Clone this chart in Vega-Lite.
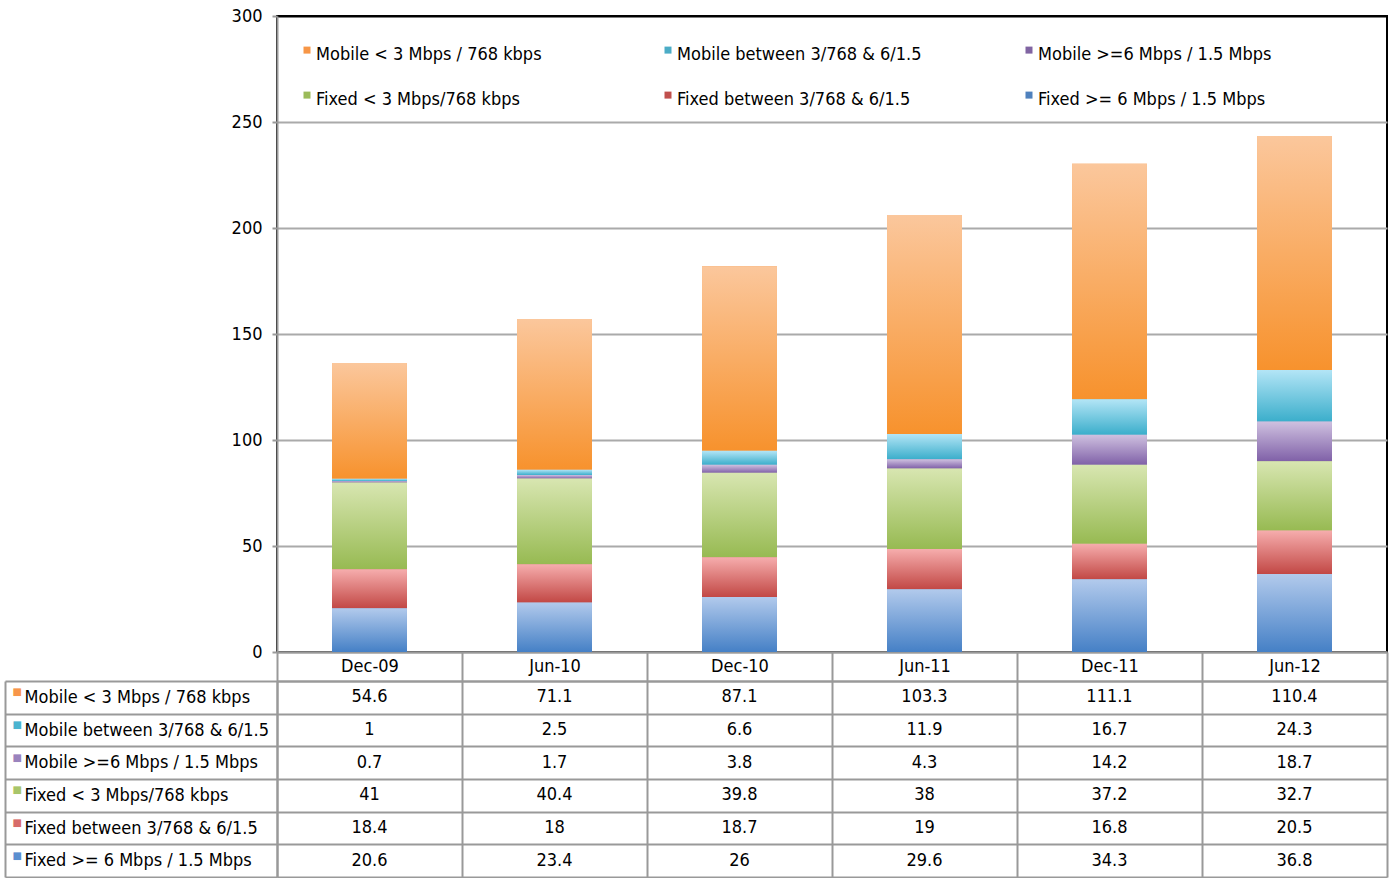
{
  "$schema": "https://vega.github.io/schema/vega-lite/v6.json",
  "padding": {"left": 4, "top": 6, "right": 1, "bottom": 1},
  "background": "#ffffff",
  "spacing": 29,
  "bounds": "flush",
  "config": {
    "font": "DejaVu Sans Condensed, sans-serif",
    "view": {"stroke": null},
    "axis": {"labelFontSize": 18, "labelColor": "#000000", "title": null, "minExtent": 0}
  },
  "datasets": {
    "d": [
      {"date": "Dec-09", "series": "Fixed >= 6 Mbps / 1.5 Mbps", "value": 20.6},
      {"date": "Dec-09", "series": "Fixed between 3/768 & 6/1.5", "value": 18.4},
      {"date": "Dec-09", "series": "Fixed < 3 Mbps/768 kbps", "value": 41},
      {"date": "Dec-09", "series": "Mobile >=6 Mbps / 1.5 Mbps", "value": 0.7},
      {"date": "Dec-09", "series": "Mobile between 3/768 & 6/1.5", "value": 1},
      {"date": "Dec-09", "series": "Mobile < 3 Mbps / 768 kbps", "value": 54.6},
      {"date": "Jun-10", "series": "Fixed >= 6 Mbps / 1.5 Mbps", "value": 23.4},
      {"date": "Jun-10", "series": "Fixed between 3/768 & 6/1.5", "value": 18},
      {"date": "Jun-10", "series": "Fixed < 3 Mbps/768 kbps", "value": 40.4},
      {"date": "Jun-10", "series": "Mobile >=6 Mbps / 1.5 Mbps", "value": 1.7},
      {"date": "Jun-10", "series": "Mobile between 3/768 & 6/1.5", "value": 2.5},
      {"date": "Jun-10", "series": "Mobile < 3 Mbps / 768 kbps", "value": 71.1},
      {"date": "Dec-10", "series": "Fixed >= 6 Mbps / 1.5 Mbps", "value": 26},
      {"date": "Dec-10", "series": "Fixed between 3/768 & 6/1.5", "value": 18.7},
      {"date": "Dec-10", "series": "Fixed < 3 Mbps/768 kbps", "value": 39.8},
      {"date": "Dec-10", "series": "Mobile >=6 Mbps / 1.5 Mbps", "value": 3.8},
      {"date": "Dec-10", "series": "Mobile between 3/768 & 6/1.5", "value": 6.6},
      {"date": "Dec-10", "series": "Mobile < 3 Mbps / 768 kbps", "value": 87.1},
      {"date": "Jun-11", "series": "Fixed >= 6 Mbps / 1.5 Mbps", "value": 29.6},
      {"date": "Jun-11", "series": "Fixed between 3/768 & 6/1.5", "value": 19},
      {"date": "Jun-11", "series": "Fixed < 3 Mbps/768 kbps", "value": 38},
      {"date": "Jun-11", "series": "Mobile >=6 Mbps / 1.5 Mbps", "value": 4.3},
      {"date": "Jun-11", "series": "Mobile between 3/768 & 6/1.5", "value": 11.9},
      {"date": "Jun-11", "series": "Mobile < 3 Mbps / 768 kbps", "value": 103.3},
      {"date": "Dec-11", "series": "Fixed >= 6 Mbps / 1.5 Mbps", "value": 34.3},
      {"date": "Dec-11", "series": "Fixed between 3/768 & 6/1.5", "value": 16.8},
      {"date": "Dec-11", "series": "Fixed < 3 Mbps/768 kbps", "value": 37.2},
      {"date": "Dec-11", "series": "Mobile >=6 Mbps / 1.5 Mbps", "value": 14.2},
      {"date": "Dec-11", "series": "Mobile between 3/768 & 6/1.5", "value": 16.7},
      {"date": "Dec-11", "series": "Mobile < 3 Mbps / 768 kbps", "value": 111.1},
      {"date": "Jun-12", "series": "Fixed >= 6 Mbps / 1.5 Mbps", "value": 36.8},
      {"date": "Jun-12", "series": "Fixed between 3/768 & 6/1.5", "value": 20.5},
      {"date": "Jun-12", "series": "Fixed < 3 Mbps/768 kbps", "value": 32.7},
      {"date": "Jun-12", "series": "Mobile >=6 Mbps / 1.5 Mbps", "value": 18.7},
      {"date": "Jun-12", "series": "Mobile between 3/768 & 6/1.5", "value": 24.3},
      {"date": "Jun-12", "series": "Mobile < 3 Mbps / 768 kbps", "value": 110.4}
    ]
  },
  "vconcat": [
    {
      "width": 1110,
      "height": 636,
      "view": {"stroke": "#000000", "strokeWidth": 2},
      "data": {"name": "d"},
      "transform": [{"stack": "value", "groupby": ["date"], "as": ["y0", "y1"]}],
      "encoding": {
        "x": {
          "field": "date", "type": "nominal",
          "sort": ["Dec-09", "Jun-10", "Dec-10", "Jun-11", "Dec-11", "Jun-12"],
          "scale": {"paddingInner": 0.595, "paddingOuter": 0.2975},
          "axis": {"labels": false, "ticks": false, "domain": true, "domainColor": "#999999", "domainWidth": 2, "grid": false, "title": null, "minExtent": 0, "maxExtent": 0}
        },
        "y": {
          "field": "y0", "type": "quantitative",
          "scale": {"domain": [0, 300], "nice": false},
          "axis": {
            "values": [0, 50, 100, 150, 200, 250, 300],
            "grid": true,
            "gridColor": {"condition": {"test": "datum.value === 300", "value": "#000000"}, "value": "#aaaaaa"},
            "gridWidth": 2,
            "domainColor": "#999999", "domainWidth": 2,
            "tickColor": "#999999", "tickWidth": 2, "tickSize": 5,
            "labelPadding": 10, "title": null
          }
        },
        "y2": {"field": "y1"}
      },
      "layer": [
        {
          "mark": {"type": "bar"},
          "encoding": {
            "color": {
              "field": "series", "type": "nominal",
              "scale": {
                "domain": ["Mobile < 3 Mbps / 768 kbps", "Mobile between 3/768 & 6/1.5", "Mobile >=6 Mbps / 1.5 Mbps", "Fixed < 3 Mbps/768 kbps", "Fixed between 3/768 & 6/1.5", "Fixed >= 6 Mbps / 1.5 Mbps"],
                "range": ["#F79646", "#4BACC6", "#8064A2", "#9BBB59", "#C0504D", "#4F81BD"]
              },
              "legend": {
                "orient": "none", "legendX": 21, "legendY": 30,
                "direction": "horizontal", "columns": 3, "title": null,
                "symbolType": "M-1,-2.4H1V-0.4H-1Z", "symbolSize": 49, "symbolStrokeWidth": 0,
                "labelFontSize": 18, "labelColor": "#000000", "labelLimit": 400, "labelOffset": 0,
                "columnPadding": 98, "rowPadding": 27, "gridAlign": "all", "padding": 0
              }
            }
          }
        },
        {"transform": [{"filter": "datum.series === 'Mobile < 3 Mbps / 768 kbps'"}], "mark": {"type": "bar", "fill": {"gradient": "linear", "x1": 0, "y1": 0, "x2": 0, "y2": 1, "stops": [{"offset": 0, "color": "#FBC79C"}, {"offset": 1, "color": "#F7922D"}]}}},
        {"transform": [{"filter": "datum.series === 'Mobile between 3/768 & 6/1.5'"}], "mark": {"type": "bar", "fill": {"gradient": "linear", "x1": 0, "y1": 0, "x2": 0, "y2": 1, "stops": [{"offset": 0, "color": "#B3E5F6"}, {"offset": 1, "color": "#3BAECB"}]}}},
        {"transform": [{"filter": "datum.series === 'Mobile >=6 Mbps / 1.5 Mbps'"}], "mark": {"type": "bar", "fill": {"gradient": "linear", "x1": 0, "y1": 0, "x2": 0, "y2": 1, "stops": [{"offset": 0, "color": "#CFC1E0"}, {"offset": 1, "color": "#8061A8"}]}}},
        {"transform": [{"filter": "datum.series === 'Fixed < 3 Mbps/768 kbps'"}], "mark": {"type": "bar", "fill": {"gradient": "linear", "x1": 0, "y1": 0, "x2": 0, "y2": 1, "stops": [{"offset": 0, "color": "#D8E6B1"}, {"offset": 1, "color": "#97BA52"}]}}},
        {"transform": [{"filter": "datum.series === 'Fixed between 3/768 & 6/1.5'"}], "mark": {"type": "bar", "fill": {"gradient": "linear", "x1": 0, "y1": 0, "x2": 0, "y2": 1, "stops": [{"offset": 0, "color": "#F6ADAD"}, {"offset": 1, "color": "#C24845"}]}}},
        {"transform": [{"filter": "datum.series === 'Fixed >= 6 Mbps / 1.5 Mbps'"}], "mark": {"type": "bar", "fill": {"gradient": "linear", "x1": 0, "y1": 0, "x2": 0, "y2": 1, "stops": [{"offset": 0, "color": "#B2CAEC"}, {"offset": 1, "color": "#4580C6"}]}}}
      ]
    },
    {
      "width": 1110,
      "height": 196,
      "data": {"name": "d"},
      "encoding": {
        "x": {
          "field": "date", "type": "nominal",
          "sort": ["Dec-09", "Jun-10", "Dec-10", "Jun-11", "Dec-11", "Jun-12"],
          "scale": {"paddingInner": 0, "paddingOuter": 0},
          "axis": {
            "orient": "top", "labelAngle": 0, "labelPadding": -23,
            "ticks": true, "tickBand": "extent", "tickSize": 29, "tickColor": "#999999", "tickWidth": 2,
            "domain": true, "domainColor": "#999999", "domainWidth": 2,
            "grid": true, "gridColor": "#999999", "gridWidth": 2, "title": null, "minExtent": 0
          }
        }
      },
      "layer": [
        {
          "mark": {"type": "text", "fontSize": 18, "color": "#000000", "baseline": "middle", "align": "center"},
          "encoding": {
            "y": {
              "field": "series", "type": "nominal",
              "sort": ["Mobile < 3 Mbps / 768 kbps", "Mobile between 3/768 & 6/1.5", "Mobile >=6 Mbps / 1.5 Mbps", "Fixed < 3 Mbps/768 kbps", "Fixed between 3/768 & 6/1.5", "Fixed >= 6 Mbps / 1.5 Mbps"],
              "scale": {"paddingInner": 0, "paddingOuter": 0},
              "axis": {
                "orient": "left", "labelAlign": "left", "labelPadding": -19, "labelLimit": 300,
                "ticks": true, "tickBand": "extent", "tickSize": 272, "tickColor": "#999999", "tickWidth": 2,
                "domain": true, "domainColor": "#999999", "domainWidth": 2,
                "grid": true, "gridColor": "#999999", "gridWidth": 2, "title": null
              }
            },
            "text": {"field": "value", "type": "quantitative"}
          }
        },
        {
          "mark": {"type": "text", "opacity": 0},
          "encoding": {
            "y": {
              "field": "series", "type": "nominal",
              "sort": ["Mobile < 3 Mbps / 768 kbps", "Mobile between 3/768 & 6/1.5", "Mobile >=6 Mbps / 1.5 Mbps", "Fixed < 3 Mbps/768 kbps", "Fixed between 3/768 & 6/1.5", "Fixed >= 6 Mbps / 1.5 Mbps"],
              "axis": {
                "orient": "left", "offset": 272, "labelExpr": "'■'", "labelFont": "DejaVu Sans", "labelFontSize": 10,
                "labelAlign": "left", "labelPadding": -7, "labelOffset": -5,
                "labelColor": {
                  "condition": [
                    {"test": "datum.value === 'Mobile < 3 Mbps / 768 kbps'", "value": "#F7964A"},
                    {"test": "datum.value === 'Mobile between 3/768 & 6/1.5'", "value": "#4BB4D0"},
                    {"test": "datum.value === 'Mobile >=6 Mbps / 1.5 Mbps'", "value": "#9A83BD"},
                    {"test": "datum.value === 'Fixed < 3 Mbps/768 kbps'", "value": "#A8C56A"},
                    {"test": "datum.value === 'Fixed between 3/768 & 6/1.5'", "value": "#D76B69"}
                  ],
                  "value": "#5B8FD0"
                },
                "ticks": false, "grid": false,
                "domain": true, "domainColor": "#999999", "domainWidth": 2, "title": null
              }
            },
            "text": {"field": "value", "type": "quantitative"}
          }
        }
      ],
      "resolve": {"axis": {"y": "independent"}}
    }
  ]
}
